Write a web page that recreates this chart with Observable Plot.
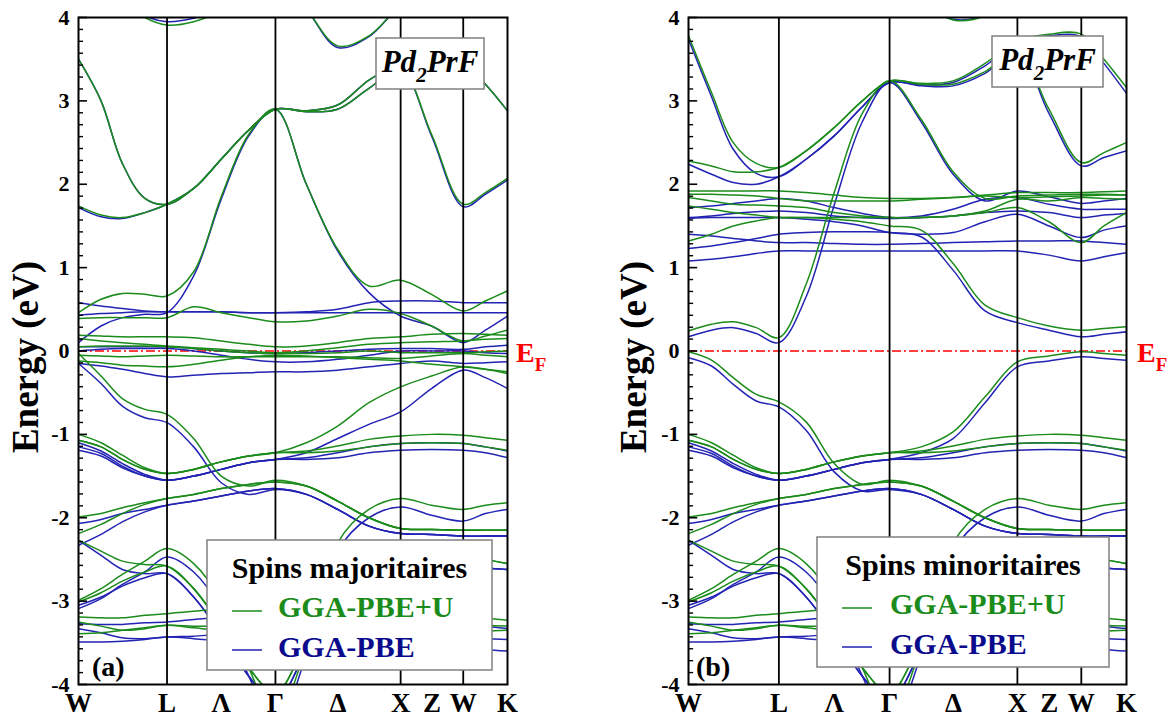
<!DOCTYPE html>
<html><head><meta charset="utf-8">
<script src="https://cdn.jsdelivr.net/npm/d3@7"></script>
<script src="https://cdn.jsdelivr.net/npm/@observablehq/plot@0.6"></script>
<style>
body{margin:0;background:#fff;}
#wrap{display:flex;width:1169px;height:717px;}
#wrap svg{flex:none;}
</style></head><body><div id="wrap"></div>
<script>
// k-path W-L-Γ-X-W-K (units 2π/a), sample grid
const kGrid = [0, 0.18, 0.35, 0.53, 0.7071, 0.92, 1.14, 1.36, 1.5731, 1.82, 2.07, 2.32, 2.5731, 2.82, 3.0731, 3.25, 3.4267];
const kLines = [0.7071, 1.5731, 2.5731, 3.0731];
const kTickPos = [0, 0.7071, 1.1401, 1.5731, 2.0731, 2.5731, 2.8231, 3.0731, 3.4267];
const kTickLabels = ["W", "L", "Λ", "Γ", "Δ", "X", "Z", "W", "K"];
const eTicks = [-4, -3, -2, -1, 0, 1, 2, 3, 4];

// ---- Majority spin, GGA-PBE+U (green)
const majU = [
  [4.6, 4.4, 4.2, 4.0, 3.91, 3.95, 4.08, 4.3, 4.5, 4.6, 4.6, 4.6, 4.6, 4.6, 4.6, 4.6, 4.6],
  [4.6, 4.6, 4.6, 4.6, 4.6, 4.6, 4.6, 4.6, 4.5, 4.1, 3.66, 3.78, 4.15, 4.4, 4.5, 4.5, 4.5],
  [3.5, 3.0, 2.25, 1.83, 1.76, 1.95, 2.3, 2.65, 2.9, 2.87, 2.9, 3.15, 3.38, 2.6, 1.76, 1.9, 2.07],
  [1.74, 1.63, 1.6, 1.66, 1.76, 1.95, 2.3, 2.65, 2.9, 2.88, 2.95, 3.25, 3.45, 3.5, 3.45, 3.2, 2.88],
  [0.46, 0.62, 0.69, 0.68, 0.66, 0.95, 1.85, 2.6, 2.9, 2.0, 1.22, 0.78, 0.85, 0.68, 0.48, 0.6, 0.72],
  [0.39, 0.4, 0.4, 0.4, 0.4, 0.53, 0.46, 0.4, 0.35, 0.36, 0.42, 0.5, 0.45, 0.3, 0.12, 0.18, 0.25],
  [0.19, 0.18, 0.17, 0.17, 0.17, 0.16, 0.12, 0.08, 0.05, 0.06, 0.1, 0.15, 0.17, 0.2, 0.21, 0.2, 0.19],
  [0.15, 0.12, 0.1, 0.08, 0.06, 0.04, 0.02, 0.0, -0.02, 0.0, 0.04, 0.08, 0.1, 0.11, 0.12, 0.14, 0.15],
  [0.05, 0.06, 0.06, 0.06, 0.05, 0.03, 0.0, -0.02, -0.03, -0.03, -0.02, 0.0, -0.02, -0.02, -0.02, -0.01, 0.0],
  [-0.05, -0.06, -0.07, -0.06, -0.05, -0.06, -0.07, -0.07, -0.07, -0.07, -0.07, -0.08, -0.09, -0.06, -0.03, -0.05, -0.07],
  [-0.12, -0.14, -0.17, -0.18, -0.19, -0.16, -0.11, -0.07, -0.05, -0.06, -0.08, -0.1, -0.12, -0.16, -0.19, -0.22, -0.25],
  [-0.03, -0.3, -0.57, -0.7, -0.76, -1.05, -1.5, -1.62, -1.55, -1.62, -1.8, -2.0, -2.13, -2.14, -2.15, -2.15, -2.15],
  [-1.0, -1.1, -1.25, -1.4, -1.47, -1.42, -1.33, -1.26, -1.22, -1.1, -0.9, -0.62, -0.43, -0.3, -0.19, -0.22, -0.27]
];
const majPBE = [
  [4.6, 4.4, 4.2, 4.02, 3.95, 3.99, 4.1, 4.3, 4.5, 4.6, 4.6, 4.6, 4.6, 4.6, 4.6, 4.6, 4.6],
  [4.6, 4.6, 4.6, 4.6, 4.6, 4.6, 4.6, 4.6, 4.5, 4.1, 3.64, 3.77, 4.15, 4.4, 4.5, 4.5, 4.5],
  [3.5, 3.0, 2.25, 1.83, 1.76, 1.95, 2.3, 2.65, 2.9, 2.87, 2.9, 3.15, 3.38, 2.58, 1.73, 1.88, 2.05],
  [1.72, 1.61, 1.59, 1.66, 1.76, 1.95, 2.3, 2.65, 2.9, 2.88, 2.95, 3.25, 3.45, 3.5, 3.45, 3.2, 2.88],
  [0.1, 0.3, 0.4, 0.44, 0.46, 0.9, 1.82, 2.58, 2.9, 2.0, 1.2, 0.7, 0.42, 0.3, 0.1, 0.25, 0.42],
  [0.58, 0.54, 0.51, 0.48, 0.47, 0.47, 0.47, 0.46, 0.46, 0.47, 0.5, 0.58, 0.6, 0.6, 0.58, 0.58, 0.58],
  [0.43, 0.45, 0.46, 0.47, 0.47, 0.47, 0.47, 0.46, 0.46, 0.46, 0.46, 0.46, 0.46, 0.46, 0.46, 0.46, 0.46],
  [0.05, 0.05, 0.05, 0.05, 0.05, 0.03, 0.0, -0.02, -0.03, -0.02, 0.0, 0.02, 0.03, 0.03, 0.02, 0.05, 0.07],
  [0.0, 0.02, 0.03, 0.03, 0.03, 0.0, -0.05, -0.1, -0.13, -0.13, -0.1, -0.05, 0.0, 0.0, 0.0, -0.02, -0.03],
  [-0.15, -0.18, -0.22, -0.27, -0.31, -0.29, -0.27, -0.26, -0.25, -0.25, -0.23, -0.19, -0.15, -0.12, -0.15, -0.14, -0.13],
  [-0.15, -0.39, -0.66, -0.8, -0.86, -1.15, -1.58, -1.72, -1.66, -1.72, -1.9, -2.1, -2.19, -2.2, -2.22, -2.22, -2.22],
  [-1.1, -1.2, -1.35, -1.48, -1.55, -1.5, -1.42, -1.34, -1.3, -1.22, -1.05, -0.88, -0.73, -0.45, -0.23, -0.32, -0.45]
];
// deeper valence bands (common to both spin channels)
const deepU = [
  [-1.07, -1.15, -1.3, -1.42, -1.47, -1.42, -1.33, -1.26, -1.22, -1.2, -1.14, -1.06, -1.02, -1.0, -1.01, -1.04, -1.07],
  [-1.07, -1.15, -1.3, -1.42, -1.47, -1.42, -1.33, -1.26, -1.22, -1.22, -1.2, -1.15, -1.11, -1.1, -1.11, -1.15, -1.19],
  [-1.99, -1.95, -1.88, -1.82, -1.77, -1.72, -1.65, -1.6, -1.57, -1.62, -1.8, -2.0, -2.13, -2.14, -2.15, -2.15, -2.15],
  [-2.19, -2.08, -1.95, -1.84, -1.77, -1.72, -1.65, -1.6, -1.57, -1.62, -1.8, -2.0, -2.13, -2.14, -2.15, -2.15, -2.15],
  [-2.99, -2.85, -2.68, -2.52, -2.37, -2.55, -3.0, -3.8, -4.4, -3.55, -2.3, -1.9, -1.77, -1.85, -1.9, -1.85, -1.82],
  [-2.27, -2.4, -2.52, -2.56, -2.58, -2.85, -3.3, -3.8, -4.1, -3.5, -2.9, -2.5, -2.35, -2.4, -2.45, -2.5, -2.55],
  [-3.01, -2.9, -2.76, -2.65, -2.58, -2.85, -3.3, -3.8, -4.1, -3.5, -2.9, -2.5, -2.35, -2.4, -2.45, -2.5, -2.55],
  [-3.19, -3.2, -3.2, -3.17, -3.15, -3.12, -3.1, -3.1, -3.1, -3.1, -3.1, -3.1, -3.1, -3.12, -3.15, -3.2, -3.23],
  [-3.25, -3.3, -3.35, -3.33, -3.29, -3.3, -3.3, -3.3, -3.3, -3.3, -3.3, -3.3, -3.28, -3.28, -3.28, -3.29, -3.3],
  [-3.39, -3.38, -3.35, -3.32, -3.29, -3.32, -3.35, -3.36, -3.37, -3.37, -3.37, -3.37, -3.36, -3.36, -3.36, -3.36, -3.35]
];
const deepPBE = [
  [-1.15, -1.23, -1.38, -1.5, -1.55, -1.5, -1.42, -1.34, -1.3, -1.3, -1.28, -1.22, -1.19, -1.18, -1.19, -1.22, -1.28],
  [-1.19, -1.26, -1.4, -1.5, -1.55, -1.5, -1.42, -1.34, -1.3, -1.28, -1.22, -1.15, -1.11, -1.1, -1.11, -1.15, -1.2],
  [-2.07, -2.02, -1.95, -1.9, -1.85, -1.8, -1.74, -1.68, -1.65, -1.72, -1.9, -2.1, -2.19, -2.2, -2.22, -2.22, -2.22],
  [-2.33, -2.2, -2.05, -1.93, -1.85, -1.8, -1.74, -1.68, -1.65, -1.72, -1.9, -2.1, -2.19, -2.2, -2.22, -2.22, -2.22],
  [-3.09, -2.97, -2.8, -2.65, -2.47, -2.65, -3.1, -3.9, -4.5, -3.65, -2.4, -2.0, -1.87, -1.97, -2.04, -1.95, -1.9],
  [-2.27, -2.45, -2.62, -2.67, -2.67, -2.95, -3.4, -3.9, -4.2, -3.6, -3.0, -2.6, -2.45, -2.5, -2.55, -2.6, -2.62],
  [-3.05, -2.95, -2.82, -2.72, -2.67, -2.95, -3.4, -3.9, -4.2, -3.6, -3.0, -2.6, -2.45, -2.5, -2.55, -2.6, -2.62],
  [-3.27, -3.28, -3.28, -3.26, -3.25, -3.22, -3.2, -3.2, -3.2, -3.2, -3.2, -3.2, -3.22, -3.25, -3.28, -3.3, -3.33],
  [-3.33, -3.38, -3.44, -3.45, -3.43, -3.42, -3.4, -3.4, -3.4, -3.4, -3.4, -3.4, -3.4, -3.42, -3.44, -3.45, -3.46],
  [-3.49, -3.49, -3.48, -3.46, -3.43, -3.45, -3.48, -3.5, -3.5, -3.5, -3.5, -3.5, -3.5, -3.52, -3.55, -3.58, -3.6]
];

// ---- Minority spin, GGA-PBE+U (green)
const minU = [
  [4.6, 4.6, 4.6, 4.6, 4.6, 4.6, 4.6, 4.6, 4.5, 4.2, 3.97, 4.02, 4.3, 4.5, 4.5, 4.5, 4.5],
  [3.78, 3.1, 2.5, 2.25, 2.2, 2.4, 2.68, 3.0, 3.24, 3.2, 3.2, 3.35, 3.6, 2.9, 2.26, 2.38, 2.5],
  [2.28, 2.22, 2.15, 2.15, 2.2, 2.4, 2.68, 3.0, 3.24, 3.21, 3.24, 3.45, 3.72, 3.8, 3.8, 3.5, 3.16],
  [0.24, 0.32, 0.35, 0.28, 0.16, 0.8, 1.9, 2.85, 3.24, 2.78, 2.15, 1.83, 1.86, 1.87, 1.88, 1.88, 1.87],
  [1.32, 1.4, 1.5, 1.56, 1.6, 1.6, 1.58, 1.55, 1.5, 1.45, 1.05, 0.55, 0.4, 0.3, 0.25, 0.27, 0.29],
  [1.92, 1.92, 1.92, 1.92, 1.92, 1.9, 1.87, 1.84, 1.83, 1.83, 1.84, 1.87, 1.9, 1.9, 1.9, 1.91, 1.92],
  [1.88, 1.88, 1.87, 1.86, 1.83, 1.8, 1.8, 1.8, 1.8, 1.82, 1.84, 1.86, 1.84, 1.85, 1.86, 1.87, 1.87],
  [1.84, 1.8, 1.76, 1.75, 1.74, 1.72, 1.66, 1.62, 1.6, 1.6, 1.62, 1.68, 1.82, 1.8, 1.84, 1.83, 1.82],
  [1.74, 1.7, 1.66, 1.63, 1.6, 1.6, 1.6, 1.6, 1.6, 1.6, 1.62, 1.66, 1.72, 1.55, 1.3, 1.5, 1.66],
  [-0.01, -0.11, -0.32, -0.52, -0.61, -0.85, -1.35, -1.6, -1.55, -1.62, -1.8, -2.0, -2.13, -2.14, -2.15, -2.15, -2.15],
  [-1.0, -1.1, -1.25, -1.4, -1.47, -1.42, -1.33, -1.26, -1.22, -1.15, -0.97, -0.55, -0.13, -0.06, -0.01, -0.03, -0.05]
];
const minPBE = [
  [4.6, 4.6, 4.6, 4.6, 4.6, 4.6, 4.6, 4.6, 4.5, 4.2, 3.98, 4.03, 4.3, 4.5, 4.5, 4.5, 4.5],
  [3.74, 3.05, 2.42, 2.13, 2.09, 2.3, 2.58, 2.93, 3.22, 3.18, 3.18, 3.33, 3.6, 2.85, 2.22, 2.32, 2.4],
  [2.24, 2.12, 2.02, 2.0, 2.09, 2.3, 2.58, 2.93, 3.22, 3.19, 3.22, 3.42, 3.7, 3.78, 3.77, 3.45, 3.09],
  [0.17, 0.25, 0.28, 0.21, 0.1, 0.65, 1.75, 2.75, 3.22, 2.75, 2.12, 1.8, 1.92, 1.85, 1.77, 1.8, 1.83],
  [1.23, 1.26, 1.3, 1.35, 1.4, 1.42, 1.43, 1.43, 1.42, 1.37, 0.97, 0.48, 0.34, 0.25, 0.17, 0.2, 0.23],
  [1.72, 1.74, 1.77, 1.8, 1.83, 1.8, 1.72, 1.65, 1.6, 1.62, 1.7, 1.82, 1.84, 1.76, 1.7, 1.7, 1.7],
  [1.6, 1.62, 1.65, 1.67, 1.68, 1.66, 1.62, 1.6, 1.59, 1.6, 1.62, 1.66, 1.68, 1.66, 1.6, 1.63, 1.65],
  [1.59, 1.6, 1.6, 1.6, 1.6, 1.58, 1.55, 1.5, 1.42, 1.4, 1.42, 1.55, 1.64, 1.5, 1.36, 1.45, 1.5],
  [1.4, 1.38, 1.35, 1.32, 1.3, 1.3, 1.29, 1.28, 1.28, 1.29, 1.3, 1.31, 1.32, 1.32, 1.32, 1.3, 1.28],
  [1.08, 1.1, 1.13, 1.17, 1.2, 1.2, 1.2, 1.2, 1.2, 1.2, 1.2, 1.2, 1.2, 1.15, 1.08, 1.13, 1.18],
  [-0.08, -0.18, -0.4, -0.6, -0.67, -0.95, -1.45, -1.68, -1.66, -1.72, -1.9, -2.1, -2.19, -2.2, -2.22, -2.22, -2.22],
  [-1.1, -1.2, -1.35, -1.48, -1.55, -1.5, -1.42, -1.34, -1.3, -1.22, -1.05, -0.62, -0.19, -0.12, -0.07, -0.09, -0.11]
];

const GREEN = "#1b8c1b", BLUE = "#2323b4", BLUE_TXT = "#0a0a8c";
const FONT = "'Liberation Serif','Times New Roman',serif";

function rows(bands, tag) {
  return bands.flatMap((b, i) => b.map((e, j) => ({k: kGrid[j], e, band: tag + i})));
}

function panel(o) {
  const labelMap = new Map(kTickPos.map((p, i) => [p, kTickLabels[i]]));
  const minor = d3.range(-28, 29).filter(i => i % 7 !== 0).map(i => i / 7);
  const svg = Plot.plot({
    width: o.width, height: 717,
    marginLeft: o.ml, marginRight: o.mr, marginTop: 17, marginBottom: 33,
    x: {domain: [0, 3.4267]},
    y: {domain: [-4, 4]},
    style: {fontFamily: FONT, overflow: "visible", background: "white"},
    marks: [
      Plot.ruleY([0], {stroke: "#ff0000", strokeWidth: 1.3, strokeDasharray: "9,3,2,3"}),
      Plot.line(rows(o.pbe, "b"), {x: "k", y: "e", z: "band", stroke: BLUE, strokeWidth: 1.5, curve: "catmull-rom", clip: true}),
      Plot.line(rows(o.u, "g"), {x: "k", y: "e", z: "band", stroke: GREEN, strokeWidth: 1.5, curve: "catmull-rom", clip: true}),
      Plot.ruleX(kLines, {stroke: "black", strokeWidth: 1.8}),
      Plot.frame({stroke: "black", strokeWidth: 2}),
      Plot.ruleY(eTicks, {y: d => d, x1: 0, x2: 0.072, stroke: "black", strokeWidth: 1.6}),
      Plot.ruleY(minor, {y: d => d, x1: 0, x2: 0.04, stroke: "black", strokeWidth: 1.4}),
      Plot.axisY({ticks: eTicks, tickSize: 0, tickPadding: 9, tickFormat: d => String(d), label: null, fontSize: 22, fontWeight: "bold", fill: "black"}),
      Plot.axisX({ticks: kTickPos, tickSize: 0, tickPadding: 8, tickFormat: d => labelMap.get(d), label: null, fontSize: 27, fontWeight: "bold", fill: "black"})
    ]
  });
  const s = d3.select(svg);
  s.selectAll("g[aria-label='y-axis tick label'] text").style("font-size", "22px").style("font-weight", "bold");
  s.selectAll("g[aria-label='x-axis tick label'] text").style("font-size", "27px").style("font-weight", "bold");
  const g = s.append("g").attr("font-family", FONT).attr("font-weight", "bold").attr("text-anchor", "start");
  // y label
  g.append("text").attr("transform", `translate(${o.ylabX},357) rotate(-90)`).attr("text-anchor", "middle")
    .attr("font-size", 37).attr("fill", "black").text("Energy (eV)");
  // E_F
  const ef = g.append("text").attr("x", o.efX).attr("y", 362).attr("text-anchor", "start").attr("fill", "#ff0000").attr("font-size", 28);
  ef.append("tspan").text("E");
  ef.append("tspan").attr("font-size", 19).attr("dy", 9).text("F");
  // compound box
  g.append("rect").attr("x", o.bx).attr("y", o.by).attr("width", o.bw).attr("height", 51)
    .attr("fill", "white").attr("stroke", "#808080").attr("stroke-width", 1.5);
  const t = g.append("text").attr("x", o.bx + o.bw / 2).attr("y", o.by + 34).attr("text-anchor", "middle")
    .attr("font-style", "italic").attr("font-size", 31).attr("fill", "black");
  t.append("tspan").text("Pd");
  t.append("tspan").attr("font-size", 21).attr("dy", 10).text("2");
  t.append("tspan").attr("dy", -10).text("PrF");
  // legend
  g.append("rect").attr("x", o.lx).attr("y", o.ly).attr("width", o.lw).attr("height", 130)
    .attr("fill", "white").attr("stroke", "#808080").attr("stroke-width", 1.5);
  g.append("text").attr("x", o.lx + o.lw / 2).attr("y", o.ly + 38).attr("text-anchor", "middle")
    .attr("font-size", 30).attr("fill", "black").text(o.title);
  [[GREEN, GREEN, "GGA-PBE+U", 71, 77], [BLUE, BLUE_TXT, "GGA-PBE", 110, 117]].forEach(([c, tc, label, ly, ty]) => {
    g.append("line").attr("x1", o.lx + 25).attr("x2", o.lx + 55).attr("y1", o.ly + ly).attr("y2", o.ly + ly)
      .attr("stroke", c).attr("stroke-width", 1.5);
    g.append("text").attr("x", o.lx + o.tx).attr("y", o.ly + ty).attr("text-anchor", "start")
      .attr("font-size", 30).attr("fill", tc).text(label);
  });
  g.append("text").attr("x", o.tagX).attr("y", 676).attr("text-anchor", "start").attr("font-size", 28).attr("fill", "black").text(o.tag);
  return svg;
}

const wrap = document.getElementById("wrap");
wrap.appendChild(panel({
  width: 584, ml: 78, mr: 77, u: majU.concat(deepU), pbe: majPBE.concat(deepPBE),
  ylabX: 38, efX: 516, bx: 376, by: 38, bw: 108, lx: 207, ly: 540, lw: 285, tx: 71,
  title: "Spins majoritaires", tag: "(a)", tagX: 92
}));
wrap.appendChild(panel({
  width: 585, ml: 104, mr: 43, u: minU.concat(deepU), pbe: minPBE.concat(deepPBE),
  ylabX: 62, efX: 553, bx: 408, by: 36, bw: 111, lx: 233, ly: 537, lw: 292, tx: 73,
  title: "Spins minoritaires", tag: "(b)", tagX: 112
}));
</script></body></html>
